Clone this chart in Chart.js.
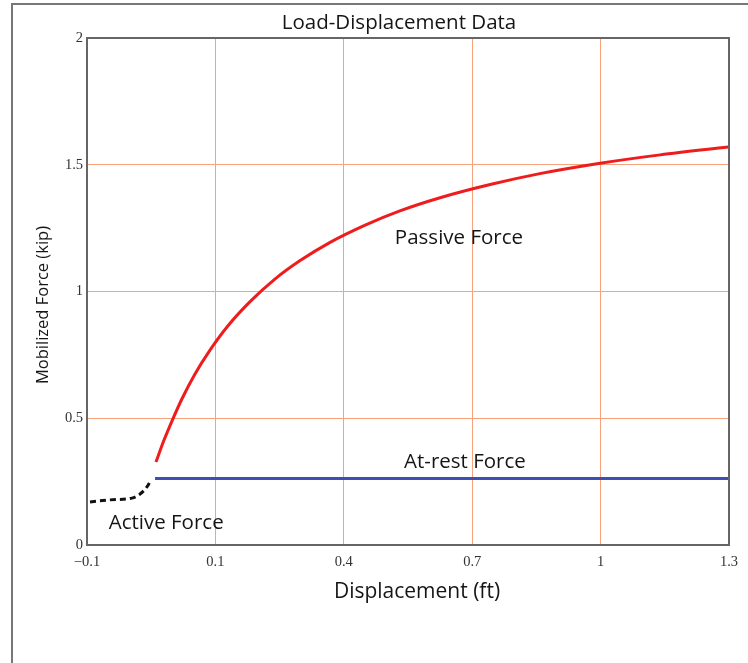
<!DOCTYPE html>
<html>
<head>
<meta charset="utf-8">
<script src="https://cdn.jsdelivr.net/npm/chart.js@4.4.1/dist/chart.umd.min.js"></script>
<style>
  html, body { margin: 0; padding: 0; background: #ffffff; }
  #wrap { width: 748px; height: 663px; position: relative; }
</style>
</head>
<body>
<div id="wrap"><canvas id="c" width="748" height="663"></canvas></div>
<script>
// ---- data ----
const chartTitle = "Load-Displacement Data";
const xAxisTitle = "Displacement (ft)";
const yAxisTitle = "Mobilized Force (kip)";

const activeX  = [-0.193, -0.146, -0.095, -0.076, -0.060, -0.050];
const activeY  = [ 0.170,  0.178,  0.185,  0.201,  0.229,  0.258];

const passiveX = [-0.039, -0.020, -0.001, 0.022, 0.052, 0.087, 0.129, 0.181, 0.239, 0.298, 0.368, 0.450, 0.531, 0.625, 0.742, 0.858, 0.999, 1.139, 1.298];
const passiveY = [ 0.327,  0.414,  0.491, 0.577, 0.674, 0.768, 0.864, 0.960, 1.049, 1.122, 1.194, 1.262, 1.318, 1.370, 1.422, 1.465, 1.506, 1.539, 1.570];

const atRestX  = [-0.041, 1.3];
const atRestY  = [ 0.262, 0.262];

const xTickLabels = ["\u22120.1", "0.1", "0.4", "0.7", "1", "1.3"];
const yTickLabels = ["0", "0.5", "1", "1.5", "2"];

const seriesLabels = ["Active Force", "Passive Force", "At-rest Force"];

// ---- build ----
function pts(xs, ys) { return xs.map((x, i) => ({ x: x, y: ys[i] })); }

const SANS = '"Open Sans", "Noto Sans", sans-serif';
const SERIF = '"Liberation Serif", "DejaVu Serif", serif';

const decor = {
  id: 'decor',
  beforeDraw(chart) {
    const ctx = chart.ctx;
    ctx.save();
    ctx.fillStyle = '#ffffff';
    ctx.fillRect(0, 0, chart.width, chart.height);
    ctx.restore();
  },
  afterDraw(chart) {
    const ctx = chart.ctx;
    const a = chart.chartArea;
    const xs = chart.scales.x, ys = chart.scales.y;
    ctx.save();
    // outer frame
    ctx.strokeStyle = '#777777';
    ctx.lineWidth = 2;
    ctx.strokeRect(12, 4, 800, 800);
    // plot frame
    ctx.strokeStyle = '#666666';
    ctx.lineWidth = 2;
    ctx.strokeRect(a.left, a.top, a.right - a.left, a.bottom - a.top);
    // texts
    ctx.fillStyle = '#151515';
    ctx.textAlign = 'center';
    ctx.textBaseline = 'middle';
    ctx.font = '20.5px ' + SANS;
    ctx.fillText(chartTitle, 399, 23);
    ctx.font = '21px ' + SANS;
    ctx.fillText(xAxisTitle, 417, 592);
    ctx.save();
    ctx.translate(43, 305);
    ctx.rotate(-Math.PI / 2);
    ctx.font = '16.5px ' + SANS;
    ctx.fillText(yAxisTitle, 0, 0);
    ctx.restore();
    // series annotations placed in data coordinates
    ctx.font = '20.5px ' + SANS;
    ctx.fillText(seriesLabels[1], xs.getPixelForValue(0.669), ys.getPixelForValue(1.211));
    ctx.fillText(seriesLabels[2], xs.getPixelForValue(0.683), ys.getPixelForValue(0.327));
    ctx.fillText(seriesLabels[0], xs.getPixelForValue(-0.015), ys.getPixelForValue(0.087));
    ctx.restore();
  }
};

new Chart(document.getElementById('c'), {
  type: 'line',
  data: {
    datasets: [
      {
        label: seriesLabels[1],
        data: pts(passiveX, passiveY),
        borderColor: '#ee1c1c',
        borderWidth: 3,
        pointRadius: 0,
        cubicInterpolationMode: 'monotone',
        fill: false
      },
      {
        label: seriesLabels[2],
        data: pts(atRestX, atRestY),
        borderColor: '#3d4fb4',
        borderWidth: 3,
        pointRadius: 0,
        tension: 0,
        fill: false
      },
      {
        label: seriesLabels[0],
        data: pts(activeX, activeY),
        borderColor: '#111111',
        borderWidth: 3,
        borderDash: [6, 4],
        pointRadius: 0,
        cubicInterpolationMode: 'monotone',
        fill: false
      }
    ]
  },
  options: {
    responsive: false,
    animation: false,
    devicePixelRatio: 1,
    layout: { padding: { left: 0, top: 38, right: 19, bottom: 0 } },
    plugins: { legend: { display: false }, tooltip: { enabled: false }, title: { display: false } },
    scales: {
      x: {
        type: 'linear',
        min: -0.2,
        max: 1.3,
        ticks: {
          stepSize: 0.3,
          autoSkip: false,
          maxRotation: 0,
          padding: 8,
          color: '#333333',
          font: { family: SERIF, size: 14.5 },
          callback: (v, i) => xTickLabels[i]
        },
        grid: { color: '#f6a27a', lineWidth: 1, drawTicks: false },
        border: { display: false },
        afterFit(scale) { scale.height = 118; }
      },
      y: {
        type: 'linear',
        min: 0,
        max: 2,
        ticks: {
          stepSize: 0.5,
          padding: 4,
          color: '#333333',
          font: { family: SERIF, size: 14.5 },
          callback: (v, i) => yTickLabels[i]
        },
        grid: { color: '#f6a27a', lineWidth: 1, drawTicks: false },
        border: { display: false },
        afterFit(scale) { scale.width = 87; }
      }
    }
  },
  plugins: [decor]
});
</script>
</body>
</html>
